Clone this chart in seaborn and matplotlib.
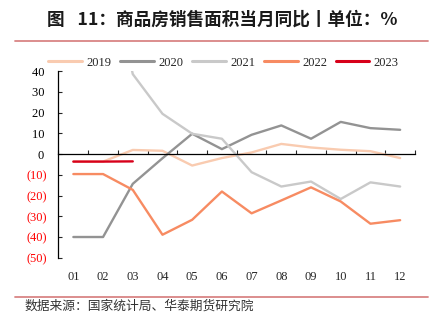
import numpy as np
import pandas as pd
import matplotlib
matplotlib.use("Agg")
import matplotlib.pyplot as plt
from matplotlib.lines import Line2D
import seaborn as sns

months = ["01", "02", "03", "04", "05", "06", "07", "08", "09", "10", "11", "12"]
years = ["2019", "2020", "2021", "2022", "2023"]

v2019 = [-3.6, -3.6, 2.0, 1.6, -5.5, -1.9, 0.8, 4.9, 3.2, 2.1, 1.4, -1.9]
v2020 = [-39.9, -39.9, -14.3, -2.0, 9.8, 2.4, 9.3, 13.8, 7.4, 15.5, 12.5, 11.7]
v2021 = [104.9, 104.9, 38.5, 19.4, 9.8, 7.4, -8.7, -15.6, -13.2, -21.6, -13.6, -15.6]
v2022 = [-9.6, -9.6, -17.2, -38.8, -31.6, -18.0, -28.5, -22.3, -16.0, -22.8, -33.5, -31.8]
v2023 = [-3.6, -3.6, -3.5]

series = {"2019": v2019, "2020": v2020, "2021": v2021, "2022": v2022, "2023": v2023}
colors = ["#f9cbb0", "#939393", "#c9c9c9", "#f78b62", "#d7001a"]

rows = []
for yr in years:
    for i, val in enumerate(series[yr]):
        rows.append({"month": i, "value": val, "year": yr})
df = pd.DataFrame(rows)

sns.set_style("ticks")
plt.rcParams["font.family"] = ["Liberation Serif", "Noto Sans CJK SC", "DejaVu Sans"]

fig = plt.figure(figsize=(4.31, 3.35), dpi=100)
ax = fig.add_axes([58.5 / 431, 1 - 258 / 335, 356.5 / 431, 187 / 335])

sns.lineplot(data=df, x="month", y="value", hue="year", hue_order=years,
             palette=colors, linewidth=1.7, ax=ax, legend=False)

ax.set_xlim(-0.5, 11.5)
ax.set_ylim(-50, 40)
ax.set_xlabel("")
ax.set_ylabel("")

# y axis: inward ticks, negatives shown in red parentheses
yticks = list(range(-50, 41, 10))
ax.set_yticks(yticks)
ax.set_yticklabels([f"({abs(t)})" if t < 0 else f"{t} " for t in yticks])
for lab, t in zip(ax.get_yticklabels(), yticks):
    lab.set_color("#ff0000" if t < 0 else "black")
ax.tick_params(axis="y", direction="in", length=3, width=0.8, labelsize=9, pad=8)

# zero line carries the boundary ticks; month labels sit at the bottom
ax.spines["bottom"].set_position(("data", 0))
ax.spines["top"].set_visible(False)
ax.spines["right"].set_visible(False)
for s in ("left", "bottom"):
    ax.spines[s].set_color("black")
    ax.spines[s].set_linewidth(0.9)
ax.set_xticks(np.arange(-0.5, 12, 1))
ax.set_xticklabels([])
ax.tick_params(axis="x", direction="in", length=3, width=0.8)

sec = ax.secondary_xaxis("bottom")
sec.set_xticks(range(len(months)))
sec.set_xticklabels(months)
sec.tick_params(length=0, labelsize=9, pad=9)
sec.spines["bottom"].set_visible(False)

handles = [Line2D([0], [0], color=c, lw=2.2) for c in colors]
ax.legend(handles, years, loc="lower center", bbox_to_anchor=(0.463, 1.005),
          ncol=5, frameon=False, fontsize=9, handlelength=2.7,
          handletextpad=0.35, columnspacing=0.7, borderaxespad=0, borderpad=0.1)

fig.text(47 / 431, 1 - 20 / 335, "图\u2002 11：商品房销售面积当月同比丨单位：%",
         family=["Noto Sans CJK SC", "DejaVu Sans"], fontweight="bold",
         fontsize=12.7, color="#1a1a1a", ha="left", va="center")
fig.add_artist(Line2D([15 / 431, 428 / 431], [1 - 41 / 335, 1 - 41 / 335],
                      color="#d98585", lw=1.3, transform=fig.transFigure))
fig.add_artist(Line2D([15 / 431, 428 / 431], [1 - 297 / 335, 1 - 297 / 335],
                      color="#d98585", lw=1.3, transform=fig.transFigure))
fig.text(25 / 431, 1 - 306 / 335, "数据来源：国家统计局、华泰期货研究院",
         family=["Noto Sans CJK SC", "DejaVu Sans"], fontsize=9.2,
         color="#333333", ha="left", va="center")

fig.savefig("out.png", dpi=100)
